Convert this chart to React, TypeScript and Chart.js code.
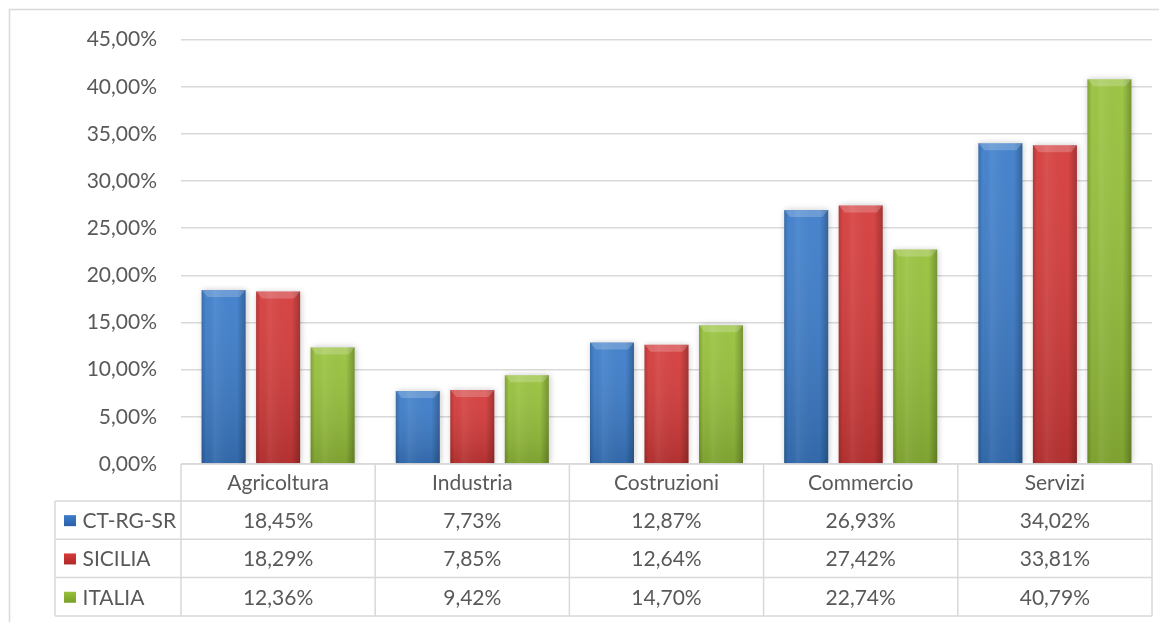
import React, { useEffect, useRef } from "react";
import { Chart, registerables } from "chart.js";

Chart.register(...registerables);

const categories = ["Agricoltura", "Industria", "Costruzioni", "Commercio", "Servizi"];
const seriesNames = ["CT-RG-SR", "SICILIA", "ITALIA"];
const ctRgSr = [18.45, 7.73, 12.87, 26.93, 34.02];
const sicilia = [18.29, 7.85, 12.64, 27.42, 33.81];
const italia = [12.36, 9.42, 14.7, 22.74, 40.79];
const yMax = 45;
const yStep = 5;

const seriesColors = ["#3C7DCB", "#D63A3A", "#97C23A"];
const seriesDark = ["#2A5FA8", "#B02828", "#7A9E2A"];

const FONT = "Lato, 'Open Sans', sans-serif";
const FONT_SIZE = 21;
const TEXT = "#595959";
const LINE = "#d9d9d9";

const fmt = (v: number) => v.toFixed(2).replace(".", ",") + "%";

const W = 1159;
const H = 619;
const SHIFT = 5;

export default function App() {
  const ref = useRef<HTMLCanvasElement>(null);

  useEffect(() => {
    const canvas = ref.current;
    if (!canvas) return;
    const allSeries = [ctRgSr, sicilia, italia];

    const framePlugin = {
      id: "frame",
      beforeDraw(chart: any) {
        const ctx = chart.ctx;
        ctx.save();
        ctx.strokeStyle = LINE;
        ctx.lineWidth = 1.5;
        ctx.strokeRect(1.5, 1.5 + SHIFT, W + 20, H + 20);
        ctx.restore();
      },
    };

    const bevelPlugin = {
      id: "bevel",
      beforeDatasetsDraw(chart: any) {
        const ctx = chart.ctx;
        ctx.save();
        ctx.shadowColor = "rgba(0,0,0,0.22)";
        ctx.shadowBlur = 6;
        ctx.shadowOffsetX = 1;
        ctx.shadowOffsetY = 0;
      },
      afterDatasetsDraw(chart: any) {
        const ctx = chart.ctx;
        ctx.restore();
        ctx.save();
        chart.data.datasets.forEach((_: any, di: number) => {
          const meta = chart.getDatasetMeta(di);
          meta.data.forEach((el: any) => {
            const w = el.width;
            const l = el.x - w / 2;
            const r = el.x + w / 2;
            const t = el.y;
            const b = el.base;
            const h = b - t;
            const g = ctx.createLinearGradient(0, t, 0, b);
            g.addColorStop(0, "rgba(255,255,255,0.06)");
            g.addColorStop(1, "rgba(0,0,0,0.16)");
            ctx.fillStyle = g;
            ctx.fillRect(l, t, w, h);
            const hg = ctx.createLinearGradient(l, 0, r, 0);
            hg.addColorStop(0, "rgba(0,0,0,0.18)");
            hg.addColorStop(0.1, "rgba(0,0,0,0.0)");
            hg.addColorStop(0.3, "rgba(255,255,255,0.06)");
            hg.addColorStop(0.8, "rgba(0,0,0,0.0)");
            hg.addColorStop(1, "rgba(0,0,0,0.25)");
            ctx.fillStyle = hg;
            ctx.fillRect(l, t, w, h);
            const bv = Math.min(7, h / 2);
            ctx.beginPath();
            ctx.moveTo(l, t);
            ctx.lineTo(r, t);
            ctx.lineTo(r - 6, t + bv);
            ctx.lineTo(l + 6, t + bv);
            ctx.closePath();
            ctx.fillStyle = "rgba(255,255,255,0.2)";
            ctx.fill();
          });
        });
        ctx.restore();
      },
    };

    const tablePlugin = {
      id: "dataTable",
      afterDraw(chart: any) {
        const ctx = chart.ctx;
        const area = chart.chartArea;
        const xs = chart.scales.x;
        const n = categories.length;
        const colW = (area.right - area.left) / n;
        const top = area.bottom;
        const headerBottom = top + 37;
        const rowH = 38.3;
        const legendLeft = 47;
        const tableBottom = headerBottom + rowH * 3;
        ctx.save();
        ctx.strokeStyle = LINE;
        ctx.lineWidth = 1.5;
        ctx.beginPath();
        ctx.moveTo(area.left, top);
        ctx.lineTo(area.right, top);
        for (let i = 0; i <= n; i++) {
          const x = area.left + colW * i;
          ctx.moveTo(x, top);
          ctx.lineTo(x, tableBottom);
        }
        for (let r = 0; r <= 3; r++) {
          const y = headerBottom + rowH * r;
          ctx.moveTo(legendLeft, y);
          ctx.lineTo(area.right, y);
        }
        ctx.moveTo(legendLeft, headerBottom);
        ctx.lineTo(legendLeft, tableBottom);
        ctx.stroke();

        ctx.font = `${FONT_SIZE}px ${FONT}`;
        ctx.fillStyle = TEXT;
        ctx.textBaseline = "middle";
        for (let r = 0; r < 3; r++) {
          const cy = headerBottom + rowH * r + rowH / 2;
          const kg = ctx.createLinearGradient(0, cy - 5, 0, cy + 6);
          kg.addColorStop(0, seriesColors[r]);
          kg.addColorStop(1, seriesDark[r]);
          ctx.fillStyle = kg;
          ctx.fillRect(56, cy - 5, 12, 11);
          ctx.fillStyle = TEXT;
          ctx.textAlign = "left";
          ctx.fillText(seriesNames[r], 74.5, cy + 1);
          ctx.textAlign = "center";
          const vals = allSeries[r];
          for (let i = 0; i < n; i++) {
            ctx.fillText(fmt(vals[i]), xs.getPixelForValue(i), cy + 1);
          }
        }
        ctx.restore();
      },
    };

    const chart = new Chart(canvas, {
      type: "bar",
      data: {
        labels: categories,
        datasets: allSeries.map((d, i) => ({
          label: seriesNames[i],
          data: d,
          backgroundColor: seriesColors[i],
          borderWidth: 0,
          categoryPercentage: 0.842,
          barPercentage: 0.807,
        })),
      },
      options: {
        responsive: false,
        animation: false,
        layout: { padding: { top: 20, left: 0, right: 15, bottom: 0 } },
        plugins: {
          legend: { display: false },
          tooltip: { enabled: false },
        },
        scales: {
          x: {
            grid: { display: false, drawTicks: false },
            border: { display: false },
            ticks: {
              font: { family: FONT, size: FONT_SIZE },
              color: TEXT,
              padding: 7,
              maxRotation: 0,
            },
            afterFit(scale: any) {
              scale.height = 158;
            },
          },
          y: {
            min: 0,
            max: yMax,
            grid: { color: LINE, lineWidth: 1.5, drawTicks: false },
            border: { display: false },
            ticks: {
              stepSize: yStep,
              font: { family: FONT, size: FONT_SIZE },
              color: TEXT,
              padding: 24,
              callback: (v: any) => fmt(Number(v)),
            },
            afterFit(scale: any) {
              scale.width = 173;
            },
          },
        },
      },
      plugins: [framePlugin, bevelPlugin, tablePlugin],
    });
    return () => chart.destroy();
  }, []);

  return (
    <div style={{ width: W, height: H, marginTop: -SHIFT }}>
      <canvas ref={ref} width={W} height={H} style={{ display: "block" }} />
    </div>
  );
}
